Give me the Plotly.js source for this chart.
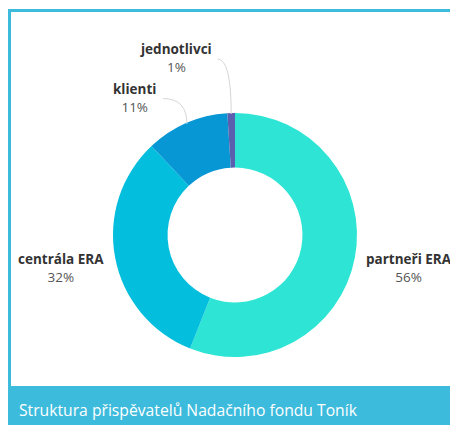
<!DOCTYPE html>
<html>
<head>
<meta charset="utf-8">
<script src="https://cdn.plot.ly/plotly-3.0.1.min.js"></script>
<style>
html,body{margin:0;padding:0;background:#fff;}
#chart{width:450px;height:425px;}
</style>
</head>
<body>
<div id="chart"></div>
<script>
// ---- data ----
const categories = ["partneři ERA", "centrála ERA", "klienti", "jednotlivci"];
const shares = [56, 32, 11, 1];
const caption = "Struktura přispěvatelů Nadačního fondu Toník";

// ---- style / layout settings ----
const colors = ["#2EE5D5", "#03BEDD", "#0797D4", "#5A5FAE"];
const W = 450, H = 425;
const cx = 235, cy = 235, R = 122;
const labelDist = 177;
// label nudges (px) to avoid crowding near the top
const labelShift = [[0, 0], [0, 0], [-30, 25], [-53, 0]];
const leaderFor = [false, false, true, true];
const frameColor = "#3CBBDC";

const px = x => x / W;
const py = y => 1 - y / H;

const total = shares.reduce((a, b) => a + b, 0);
const annotations = [];
const shapes = [];

// frame and caption bar
shapes.push({type: "rect", xref: "paper", yref: "paper", x0: px(8), x1: px(450), y0: py(12), y1: py(9), line: {width: 0}, fillcolor: frameColor, layer: "below"});
shapes.push({type: "rect", xref: "paper", yref: "paper", x0: px(8), x1: px(11), y0: py(386), y1: py(9), line: {width: 0}, fillcolor: frameColor, layer: "below"});
shapes.push({type: "rect", xref: "paper", yref: "paper", x0: px(8), x1: px(450), y0: py(425), y1: py(386), line: {width: 0}, fillcolor: frameColor, layer: "below"});

annotations.push({
  text: caption, xref: "paper", yref: "paper", x: px(17), y: py(410),
  xanchor: "left", yanchor: "middle", showarrow: false,
  font: {family: "Open Sans, sans-serif", size: 15.7, color: "#ffffff"}
});

let cum = 0;
shares.forEach((v, i) => {
  const mid = (cum + v / 2) / total * 2 * Math.PI;
  cum += v;
  const dx = Math.sin(mid), dy = -Math.cos(mid);
  const lx = cx + dx * labelDist + labelShift[i][0];
  const ly = cy + dy * labelDist + labelShift[i][1];
  annotations.push({
    text: "<b>" + categories[i] + "</b><br><span style='color:#555'>" + Math.round(v / total * 100) + "%</span>",
    xref: "paper", yref: "paper", x: px(lx), y: py(ly),
    xanchor: "center", yanchor: "middle", showarrow: false, align: "center",
    font: {family: "Open Sans, sans-serif", size: 13.5, color: "#333"}
  });
  if (leaderFor[i]) {
    const ex = cx + dx * (R - 1), ey = cy + dy * (R - 1);
    const name = categories[i];
    const halfW = name.length * 3.2;
    const sx = lx + halfW + 6, sy = ly + 1;
    shapes.push({
      type: "path", xref: "paper", yref: "paper",
      path: `M ${px(sx)},${py(sy)} Q ${px(ex)},${py(sy)} ${px(ex)},${py(ey)}`,
      line: {color: "#d6d6d6", width: 1}
    });
  }
});

const trace = {
  type: "pie",
  labels: categories,
  values: shares,
  sort: false,
  direction: "clockwise",
  rotation: 0,
  hole: 0.553,
  textinfo: "none",
  hoverinfo: "label+percent",
  marker: {colors: colors, line: {width: 0}},
  domain: {x: [px(cx - R), px(cx + R)], y: [py(cy + R), py(cy - R)]},
  showlegend: false
};

Plotly.newPlot("chart", [trace], {
  width: W, height: H,
  margin: {l: 0, r: 0, t: 0, b: 0},
  paper_bgcolor: "#ffffff",
  showlegend: false,
  shapes: shapes,
  annotations: annotations
}, {displayModeBar: false, staticPlot: true});
</script>
</body>
</html>
